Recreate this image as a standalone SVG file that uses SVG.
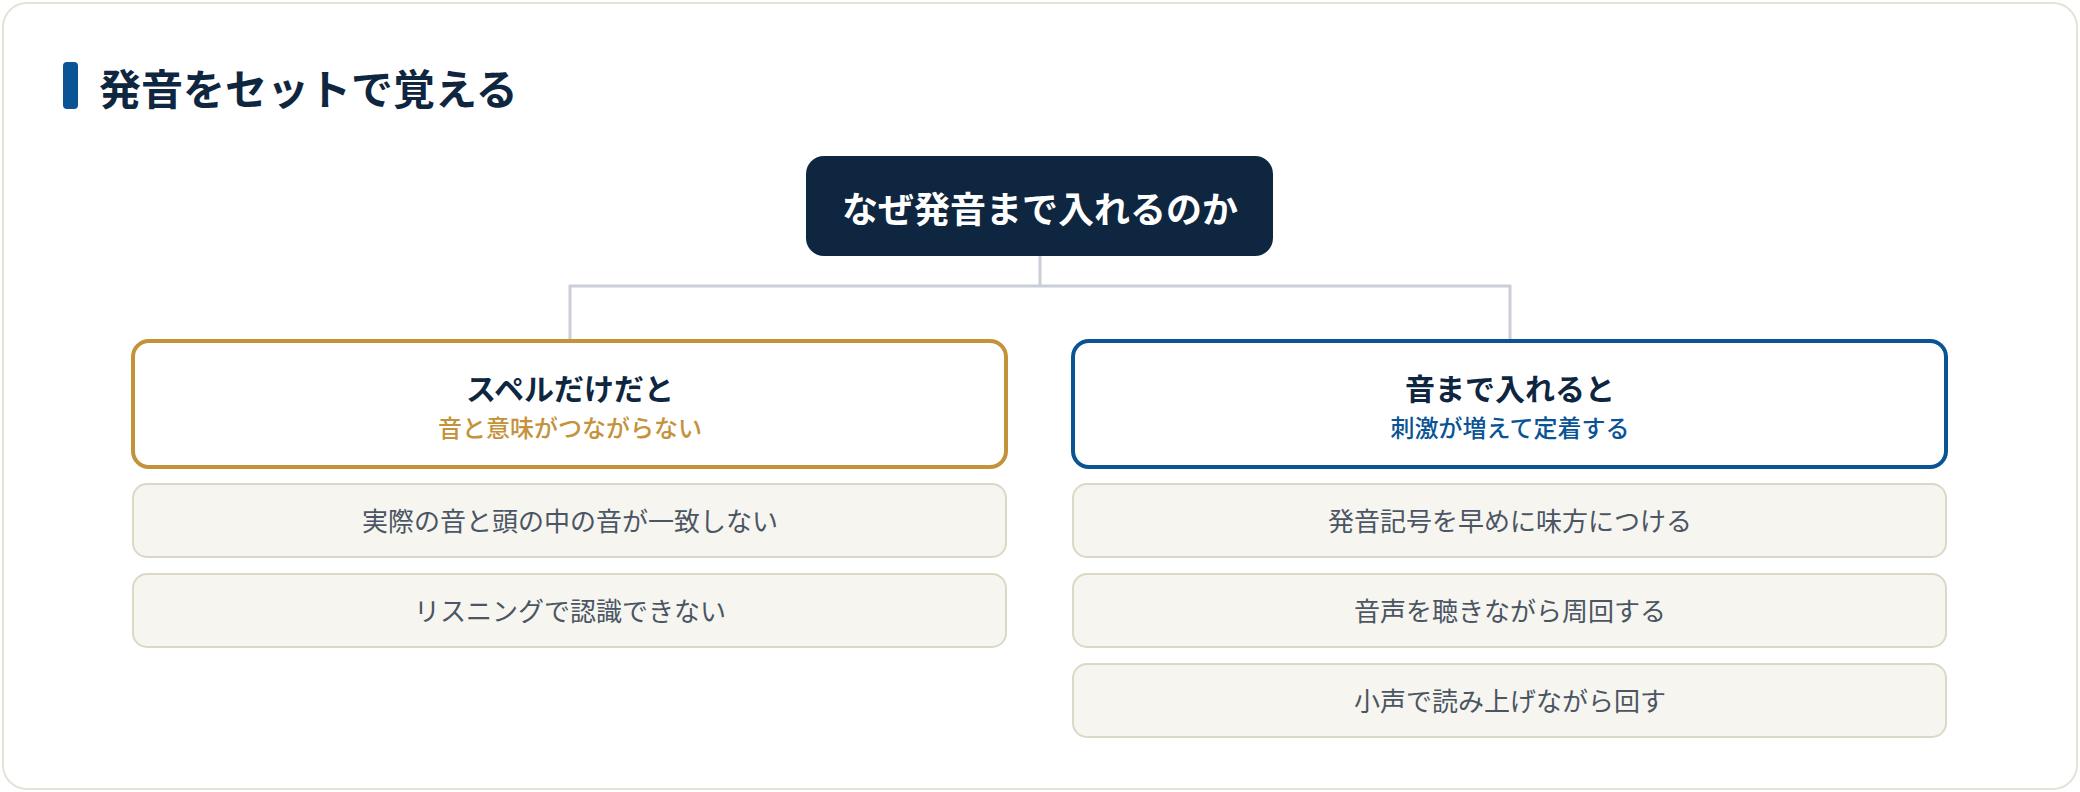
<svg xmlns="http://www.w3.org/2000/svg" width="2080" height="792" viewBox="0 0 2080 792">
<style>
text{font-family:"Noto Sans CJK JP","Noto Sans",sans-serif;text-anchor:middle}
.title{font-size:42px;font-weight:700;fill:#0f2640;text-anchor:start}
.root{font-size:36px;font-weight:700;fill:#ffffff}
.ct{font-size:30px;font-weight:700;fill:#0f2640}
.sub{font-size:24px;font-weight:500}
.leafbox{fill:#f6f5ef;stroke:#dbd8c6;stroke-width:2}
.leaf{font-size:26px;fill:#4b5563}
.conn{fill:none;stroke:#c9ced8;stroke-width:3}
</style>
<rect x="3" y="3" width="2074" height="786" rx="24" fill="#ffffff" stroke="#e6e3d6" stroke-width="2"/>
<g id="heading">
<rect x="63" y="62" width="15" height="47" rx="4" fill="#0a5496"/>
<text class="title" x="99" y="105">発音をセットで覚える</text>
</g>
<g id="connectors">
<path class="conn" d="M1040 256 V286 M570 341 V286 H1510 V341"/>
</g>
<g id="root">
<rect x="806" y="156" width="467" height="100" rx="18" fill="#0f2640"/>
<text class="root" x="1040" y="223">なぜ発音まで入れるのか</text>
</g>
<g id="left">
<rect x="133" y="341" width="873" height="126" rx="16" fill="#ffffff" stroke="#c4923a" stroke-width="4"/>
<text class="ct" x="570" y="400">スペルだけだと</text>
<text class="sub" x="570" y="437" fill="#c4923a">音と意味がつながらない</text>
</g>
<g id="left-1">
<rect class="leafbox" x="133" y="484" width="873" height="73" rx="14"/>
<text class="leaf" x="570" y="531">実際の音と頭の中の音が一致しない</text>
</g>
<g id="left-2">
<rect class="leafbox" x="133" y="574" width="873" height="73" rx="14"/>
<text class="leaf" x="570" y="621">リスニングで認識できない</text>
</g>
<g id="right">
<rect x="1073" y="341" width="873" height="126" rx="16" fill="#ffffff" stroke="#0a5496" stroke-width="4"/>
<text class="ct" x="1510" y="400">音まで入れると</text>
<text class="sub" x="1510" y="437" fill="#0a5496">刺激が増えて定着する</text>
</g>
<g id="right-1">
<rect class="leafbox" x="1073" y="484" width="873" height="73" rx="14"/>
<text class="leaf" x="1510" y="531">発音記号を早めに味方につける</text>
</g>
<g id="right-2">
<rect class="leafbox" x="1073" y="574" width="873" height="73" rx="14"/>
<text class="leaf" x="1510" y="621">音声を聴きながら周回する</text>
</g>
<g id="right-3">
<rect class="leafbox" x="1073" y="664" width="873" height="73" rx="14"/>
<text class="leaf" x="1510" y="711">小声で読み上げながら回す</text>
</g>
</svg>
